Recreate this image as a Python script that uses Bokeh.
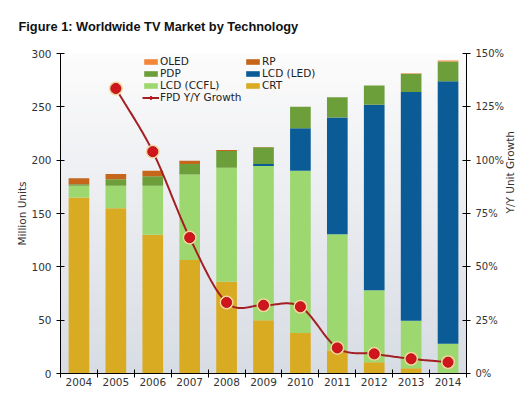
import numpy as np
from bokeh.plotting import figure
from bokeh.models import (Range1d, LinearAxis, FixedTicker, NumeralTickFormatter,
                          Legend, LegendItem, Title, ColumnDataSource)
from bokeh.embed import file_html
from bokeh.resources import INLINE

years = [2004, 2005, 2006, 2007, 2008, 2009, 2010, 2011, 2012, 2013, 2014]
crt = [165, 155, 130, 106.5, 86, 50, 38, 21.5, 10.5, 5, 0]
lcd_ccfl = [11, 21, 46, 80, 107, 144.5, 152, 109, 67.5, 44.5, 28]
lcd_led = [0, 0, 0, 0, 0, 2, 40, 109.5, 174, 214.5, 246]
pdp = [1.5, 6, 9, 10, 15.5, 15.5, 20, 19, 18, 17, 18.5]
rp = [5.5, 5, 5, 3, 1, 0.3, 0, 0, 0, 0, 0]
oled = [0, 0, 0, 0, 0, 0, 0, 0, 0, 0.5, 1]
growth_years = [2005, 2006, 2007, 2008, 2009, 2010, 2011, 2012, 2013, 2014]
growth = [1.336, 1.04, 0.637, 0.333, 0.32, 0.313, 0.12, 0.092, 0.069, 0.053]

series = ["crt", "lcd_ccfl", "lcd_led", "pdp", "rp", "oled"]
labels = {"crt": "CRT", "lcd_ccfl": "LCD (CCFL)", "lcd_led": "LCD (LED)",
          "pdp": "PDP", "rp": "RP", "oled": "OLED"}
colors = {"crt": "#D8AB22", "lcd_ccfl": "#9DD770", "lcd_led": "#0B5C96",
          "pdp": "#6C9E3A", "rp": "#C5661B", "oled": "#F2873A"}

src = ColumnDataSource(dict(year=years, crt=crt, lcd_ccfl=lcd_ccfl, lcd_led=lcd_led,
                            pdp=pdp, rp=rp, oled=oled))

x0, x1 = years[0] - 0.5, years[-1] + 0.5
p = figure(width=525, height=388, output_backend="svg", toolbar_location=None,
           x_range=Range1d(x0, x1), y_range=Range1d(0, 300),
           min_border_left=60, min_border_right=58, min_border_top=4,
           min_border_bottom=5,
           background_fill_color="white", border_fill_color="white",
           outline_line_color=None)

# gradient background
n = 64
grad = np.zeros((n, 1), dtype=np.uint32)
view = grad.view(dtype=np.uint8).reshape((n, 1, 4))
for i in range(n):
    t = i / (n - 1)  # 0 bottom, 1 top
    c0 = np.array([216, 220, 228]); c1 = np.array([252, 252, 252])
    c = c0 + (c1 - c0) * t
    view[i, 0, :3] = c.astype(np.uint8)
    view[i, 0, 3] = 255
p.image_rgba(image=[grad], x=x0, y=0, dw=x1 - x0, dh=300)

# gridlines
p.xgrid.grid_line_color = None
p.ygrid.grid_line_color = "#7a7a7a"
p.ygrid.grid_line_width = 1
p.ygrid.level = "image"

renderers = p.vbar_stack(series, x="year", width=0.56, source=src,
                         color=[colors[s] for s in series], line_width=0)
rmap = dict(zip(series, renderers))

# smooth growth line (Catmull-Rom through data points)
gx = np.array(growth_years, dtype=float)
gy = np.array(growth, dtype=float)
px = np.concatenate([[2 * gx[0] - gx[1]], gx, [2 * gx[-1] - gx[-2]]])
py = np.concatenate([[2 * gy[0] - gy[1]], gy, [2 * gy[-1] - gy[-2]]])
sx, sy = [], []
for i in range(1, len(px) - 2):
    p0, p1, p2, p3 = [np.array([px[j], py[j]]) for j in (i - 1, i, i + 1, i + 2)]
    c1 = p1 + (p2 - p0) / 6
    c2 = p2 - (p3 - p1) / 6
    for t in np.linspace(0, 1, 25):
        b = (1 - t) ** 3 * p1 + 3 * (1 - t) ** 2 * t * c1 + 3 * (1 - t) * t ** 2 * c2 + t ** 3 * p2
        sx.append(b[0]); sy.append(b[1])

p.extra_y_ranges = {"g": Range1d(0, 1.5)}
line_r = p.line(sx, sy, y_range_name="g", line_color="#A31F24", line_width=2)
glow_r = p.scatter(growth_years, growth, y_range_name="g", size=14,
                   fill_color="#F7D29A", line_color=None)
dot_r = p.scatter(growth_years, growth, y_range_name="g", size=10,
                  fill_color="#D0161C", line_color="#B01418", line_width=1)

# axes
p.xaxis.ticker = FixedTicker(ticks=years, minor_ticks=[y - 0.5 for y in years] + [years[-1] + 0.5])
p.xaxis.major_tick_line_color = None
p.xaxis.major_tick_in = 0
p.xaxis.major_tick_out = 0
p.xaxis.minor_tick_in = 4
p.xaxis.minor_tick_out = 4
p.xaxis.minor_tick_line_color = "black"
p.xaxis.axis_line_color = "black"
p.xaxis.major_label_standoff = 0

p.yaxis.ticker = FixedTicker(ticks=[0, 50, 100, 150, 200, 250, 300])
p.yaxis.axis_label = "Million Units"
p.yaxis.major_tick_in = 4
p.yaxis.major_tick_out = 4
p.yaxis.minor_tick_line_color = None
p.yaxis.axis_line_color = "black"
p.yaxis.major_tick_line_color = "black"

ax2 = LinearAxis(y_range_name="g", axis_label="Y/Y Unit Growth",
                 ticker=FixedTicker(ticks=[0, 0.25, 0.5, 0.75, 1.0, 1.25, 1.5]),
                 formatter=NumeralTickFormatter(format="0%"))
ax2.major_tick_in = 4
ax2.major_tick_out = 4
ax2.minor_tick_line_color = None
ax2.axis_line_color = "black"
ax2.major_tick_line_color = "black"
if "axis_label_orientation" in ax2.properties():
    ax2.axis_label_orientation = float(np.pi / 2)
p.add_layout(ax2, "right")

for ax in [p.xaxis[0], p.yaxis[0], ax2]:
    ax.major_label_text_font = "DejaVu Sans"
    ax.major_label_text_font_size = "10.5px"
    ax.major_label_text_color = "#333333"
    ax.axis_label_text_font = "DejaVu Sans"
    ax.axis_label_text_font_size = "10.5px"
    ax.axis_label_text_font_style = "normal"
    ax.axis_label_text_color = "#333333"
p.yaxis.axis_label_standoff = 0
ax2.major_label_text_font_size = "10px"
ax2.major_label_standoff = 5
ax2.axis_label_standoff = 3

# legends (location = bottom-left corner, in px from the frame's bottom-left)
def mk_legend(items, x, top):
    lg = Legend(items=items, location=(x, top - 12 * len(items)), padding=0, margin=0,
                spacing=0, glyph_width=17, glyph_height=7, label_height=12,
                label_standoff=1, label_text_font="DejaVu Sans",
                label_text_font_size="10.5px", label_text_color="#222222",
                background_fill_alpha=0, border_line_color=None)
    return lg

lg1 = mk_legend([LegendItem(label=labels["oled"], renderers=[rmap["oled"]]),
                 LegendItem(label=labels["pdp"], renderers=[rmap["pdp"]]),
                 LegendItem(label=labels["lcd_ccfl"], renderers=[rmap["lcd_ccfl"]]),
                 LegendItem(label="FPD Y/Y Growth", renderers=[line_r, dot_r])], 82, 318)
lg2 = mk_legend([LegendItem(label=labels["rp"], renderers=[rmap["rp"]]),
                 LegendItem(label=labels["lcd_led"], renderers=[rmap["lcd_led"]]),
                 LegendItem(label=labels["crt"], renderers=[rmap["crt"]])], 184, 318)
p.add_layout(lg1, "center")
p.add_layout(lg2, "center")

t = Title(text="Figure 1: Worldwide TV Market by Technology", align="left",
          vertical_align="top",
          text_font="Liberation Sans", text_font_size="12.8px", text_font_style="bold",
          text_color="#111111", offset=-42, standoff=36)
p.add_layout(t, "above")

open("out.html", "w").write(file_html(p, INLINE))
